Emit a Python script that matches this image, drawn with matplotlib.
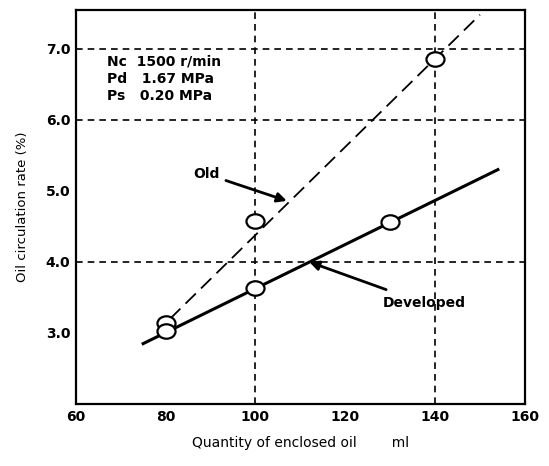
import numpy as np
import matplotlib.pyplot as plt
from matplotlib.path import Path

# measured points
old_x = [80, 100, 140]
old_y = [3.14, 4.58, 6.86]
dev_x = [80, 100, 130]
dev_y = [3.03, 3.63, 4.56]

# hand drawn trend lines (end points)
old_line_x = [81, 150]
old_line_y = [3.20, 7.48]
dev_line_x = [75, 154]
dev_line_y = [2.85, 5.30]

x_ticks = [60, 80, 100, 120, 140, 160]
y_ticks = [3.0, 4.0, 5.0, 6.0, 7.0]
grid_x = [100, 140]
grid_y = [4.0, 6.0, 7.0]

plt.rcParams['font.family'] = ['DejaVu Sans']

# slightly flattened circle, like the drawn markers
circ = Path.unit_circle()
ellipse = Path(circ.vertices * np.array([1.0, 0.8]), circ.codes)

fig = plt.figure(figsize=(5.49, 4.66), dpi=100)
ax = fig.add_axes([0.138, 0.133, 0.818, 0.846])

for gx in grid_x:
    ax.axvline(gx, color='black', lw=1.2, ls=(0, (4, 3)), zorder=1)
for gy in grid_y:
    ax.axhline(gy, color='black', lw=1.2, ls=(0, (4, 3)), zorder=1)

ax.plot(old_line_x, old_line_y, color='black', lw=1.3, ls=(0, (8, 4)), zorder=2)
ax.plot(dev_line_x, dev_line_y, color='black', lw=2.2, zorder=2)

ax.plot(old_x, old_y, marker=ellipse, ls='none', ms=13, mfc='white', mec='black', mew=1.6, zorder=3)
ax.plot(dev_x, dev_y, marker=ellipse, ls='none', ms=13, mfc='white', mec='black', mew=1.6, zorder=3)

ax.set_xlim(60, 160)
ax.set_ylim(2.0, 7.55)
ax.set_xticks(x_ticks)
ax.set_yticks(y_ticks)
ax.set_yticklabels(['%.1f' % v for v in y_ticks])
ax.tick_params(length=0, labelsize=10, pad=4)
for lab in ax.get_xticklabels() + ax.get_yticklabels():
    lab.set_fontweight('bold')
for sp in ax.spines.values():
    sp.set_linewidth(1.6)

ax.set_xlabel('Quantity of enclosed oil        ml', fontsize=10, labelpad=9)
ax.set_ylabel('Oil circulation rate (%)', fontsize=9.5, labelpad=12)

ax.text(67, 6.92, 'Nc  1500 r/min\nPd   1.67 MPa\nPs   0.20 MPa',
        fontsize=10, fontweight='bold', va='top', ha='left', linespacing=1.3)

ax.annotate('Old', xy=(107, 4.86), xytext=(89, 5.24), fontsize=10, fontweight='bold',
            ha='center', va='center',
            arrowprops=dict(arrowstyle='-|>', color='black', lw=2, mutation_scale=14,
                            shrinkA=3, shrinkB=0))
ax.annotate('Developed', xy=(112, 4.0), xytext=(137.5, 3.42), fontsize=10, fontweight='bold',
            ha='center', va='center',
            arrowprops=dict(arrowstyle='-|>', color='black', lw=2, mutation_scale=14,
                            shrinkA=8, shrinkB=0))

plt.savefig('out.png', dpi=100)
